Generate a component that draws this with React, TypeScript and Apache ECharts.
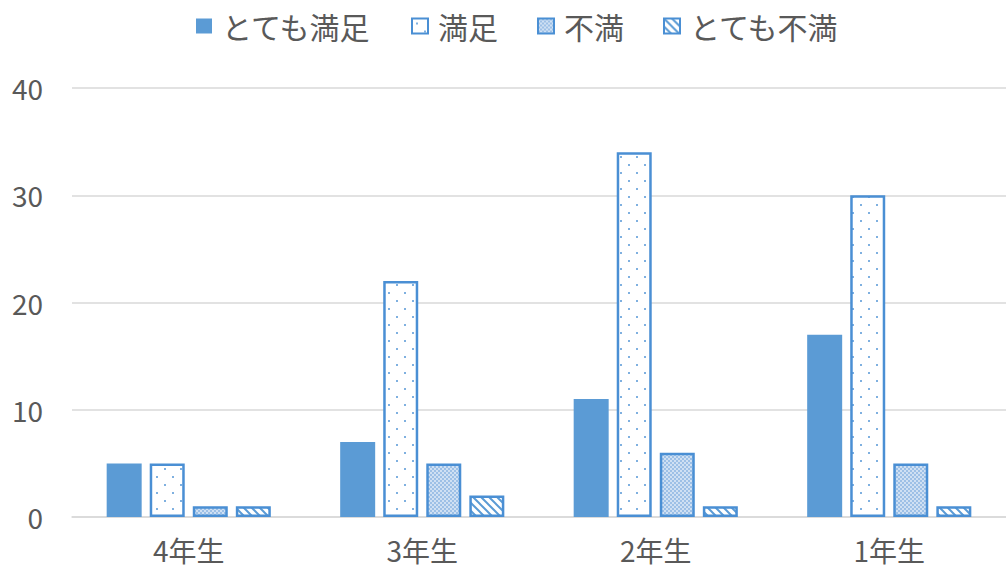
import React, { useEffect, useRef } from "react";
import * as echarts from "echarts";

const categories = ["4年生", "3年生", "2年生", "1年生"];
const seriesNames = ["とても満足", "満足", "不満", "とても不満"];
const verySatisfied = [5, 7, 11, 17];
const satisfied = [5, 22, 34, 30];
const dissatisfied = [1, 5, 6, 5];
const veryDissatisfied = [1, 2, 1, 1];
const yTicks = [0, 10, 20, 30, 40];

const BLUE = "#5B9BD5";
const EDGE = "#4a8fd4";
const GRAY = "#595959";

function dotPattern(): HTMLCanvasElement {
  const c = document.createElement("canvas");
  c.width = 16;
  c.height = 16;
  const ctx = c.getContext("2d")!;
  ctx.fillStyle = "#ffffff";
  ctx.fillRect(0, 0, 16, 16);
  ctx.fillStyle = "#7fb0e0";
  ctx.fillRect(4, 4, 2, 2);
  ctx.fillRect(12, 12, 2, 2);
  return c;
}

function checkerPattern(): HTMLCanvasElement {
  const c = document.createElement("canvas");
  c.width = 4;
  c.height = 4;
  const ctx = c.getContext("2d")!;
  ctx.fillStyle = "#cfe0f3";
  ctx.fillRect(0, 0, 4, 4);
  ctx.fillStyle = "#9dc0e6";
  ctx.fillRect(0, 0, 2, 2);
  ctx.fillRect(2, 2, 2, 2);
  return c;
}

function stripePattern(): HTMLCanvasElement {
  const c = document.createElement("canvas");
  c.width = 8;
  c.height = 8;
  const ctx = c.getContext("2d")!;
  ctx.fillStyle = "#ffffff";
  ctx.fillRect(0, 0, 8, 8);
  ctx.strokeStyle = BLUE;
  ctx.lineWidth = 2;
  ctx.beginPath();
  ctx.moveTo(-2, -2);
  ctx.lineTo(10, 10);
  ctx.moveTo(-6, 2);
  ctx.lineTo(6, 14);
  ctx.moveTo(2, -6);
  ctx.lineTo(14, 6);
  ctx.stroke();
  return c;
}

export default function App() {
  const ref = useRef<HTMLDivElement>(null);
  useEffect(() => {
    if (!ref.current) return;
    const chart = echarts.init(ref.current, undefined, { renderer: "svg" });
    const font = "'Noto Sans CJK JP', 'Noto Sans', sans-serif";
    const values = [verySatisfied, satisfied, dissatisfied, veryDissatisfied];
    const styles = [
      { color: BLUE, borderWidth: 0 },
      { color: { image: dotPattern(), repeat: "repeat" }, borderColor: EDGE, borderWidth: 2.5 },
      { color: { image: checkerPattern(), repeat: "repeat" }, borderColor: EDGE, borderWidth: 2.5 },
      { color: { image: stripePattern(), repeat: "repeat" }, borderColor: EDGE, borderWidth: 2.5 },
    ];
    chart.setOption({
      animation: false,
      backgroundColor: "#ffffff",
      textStyle: { fontFamily: font },
      legend: {
        top: 6,
        left: 191,
        itemWidth: 16,
        itemHeight: 15,
        itemGap: 39,
        icon: "rect",
        textStyle: { color: GRAY, fontSize: 30, fontFamily: font, padding: [0, 0, 0, 5] },
        data: seriesNames,
      },
      grid: { left: 72, right: -5, top: 88, bottom: 65 },
      xAxis: {
        type: "category",
        data: categories,
        axisTick: { show: false },
        axisLine: { lineStyle: { color: "#d9d9d9", width: 1.5 } },
        axisLabel: { color: GRAY, fontSize: 28, margin: 19, fontFamily: font },
      },
      yAxis: {
        type: "value",
        min: yTicks[0],
        max: yTicks[yTicks.length - 1],
        interval: 10,
        axisLine: { show: false },
        axisTick: { show: false },
        splitLine: { lineStyle: { color: "#d9d9d9", width: 1.5 } },
        axisLabel: { color: GRAY, fontSize: 28, margin: 29, fontFamily: font },
      },
      series: seriesNames.map((name, i) => ({
        name,
        type: "bar",
        data: values[i],
        barWidth: 35,
        barGap: "23%",
        itemStyle: styles[i],
      })),
    });
    return () => chart.dispose();
  }, []);
  return <div ref={ref} style={{ width: 1006, height: 582, position: "absolute", left: 0, top: 0 }} />;
}
